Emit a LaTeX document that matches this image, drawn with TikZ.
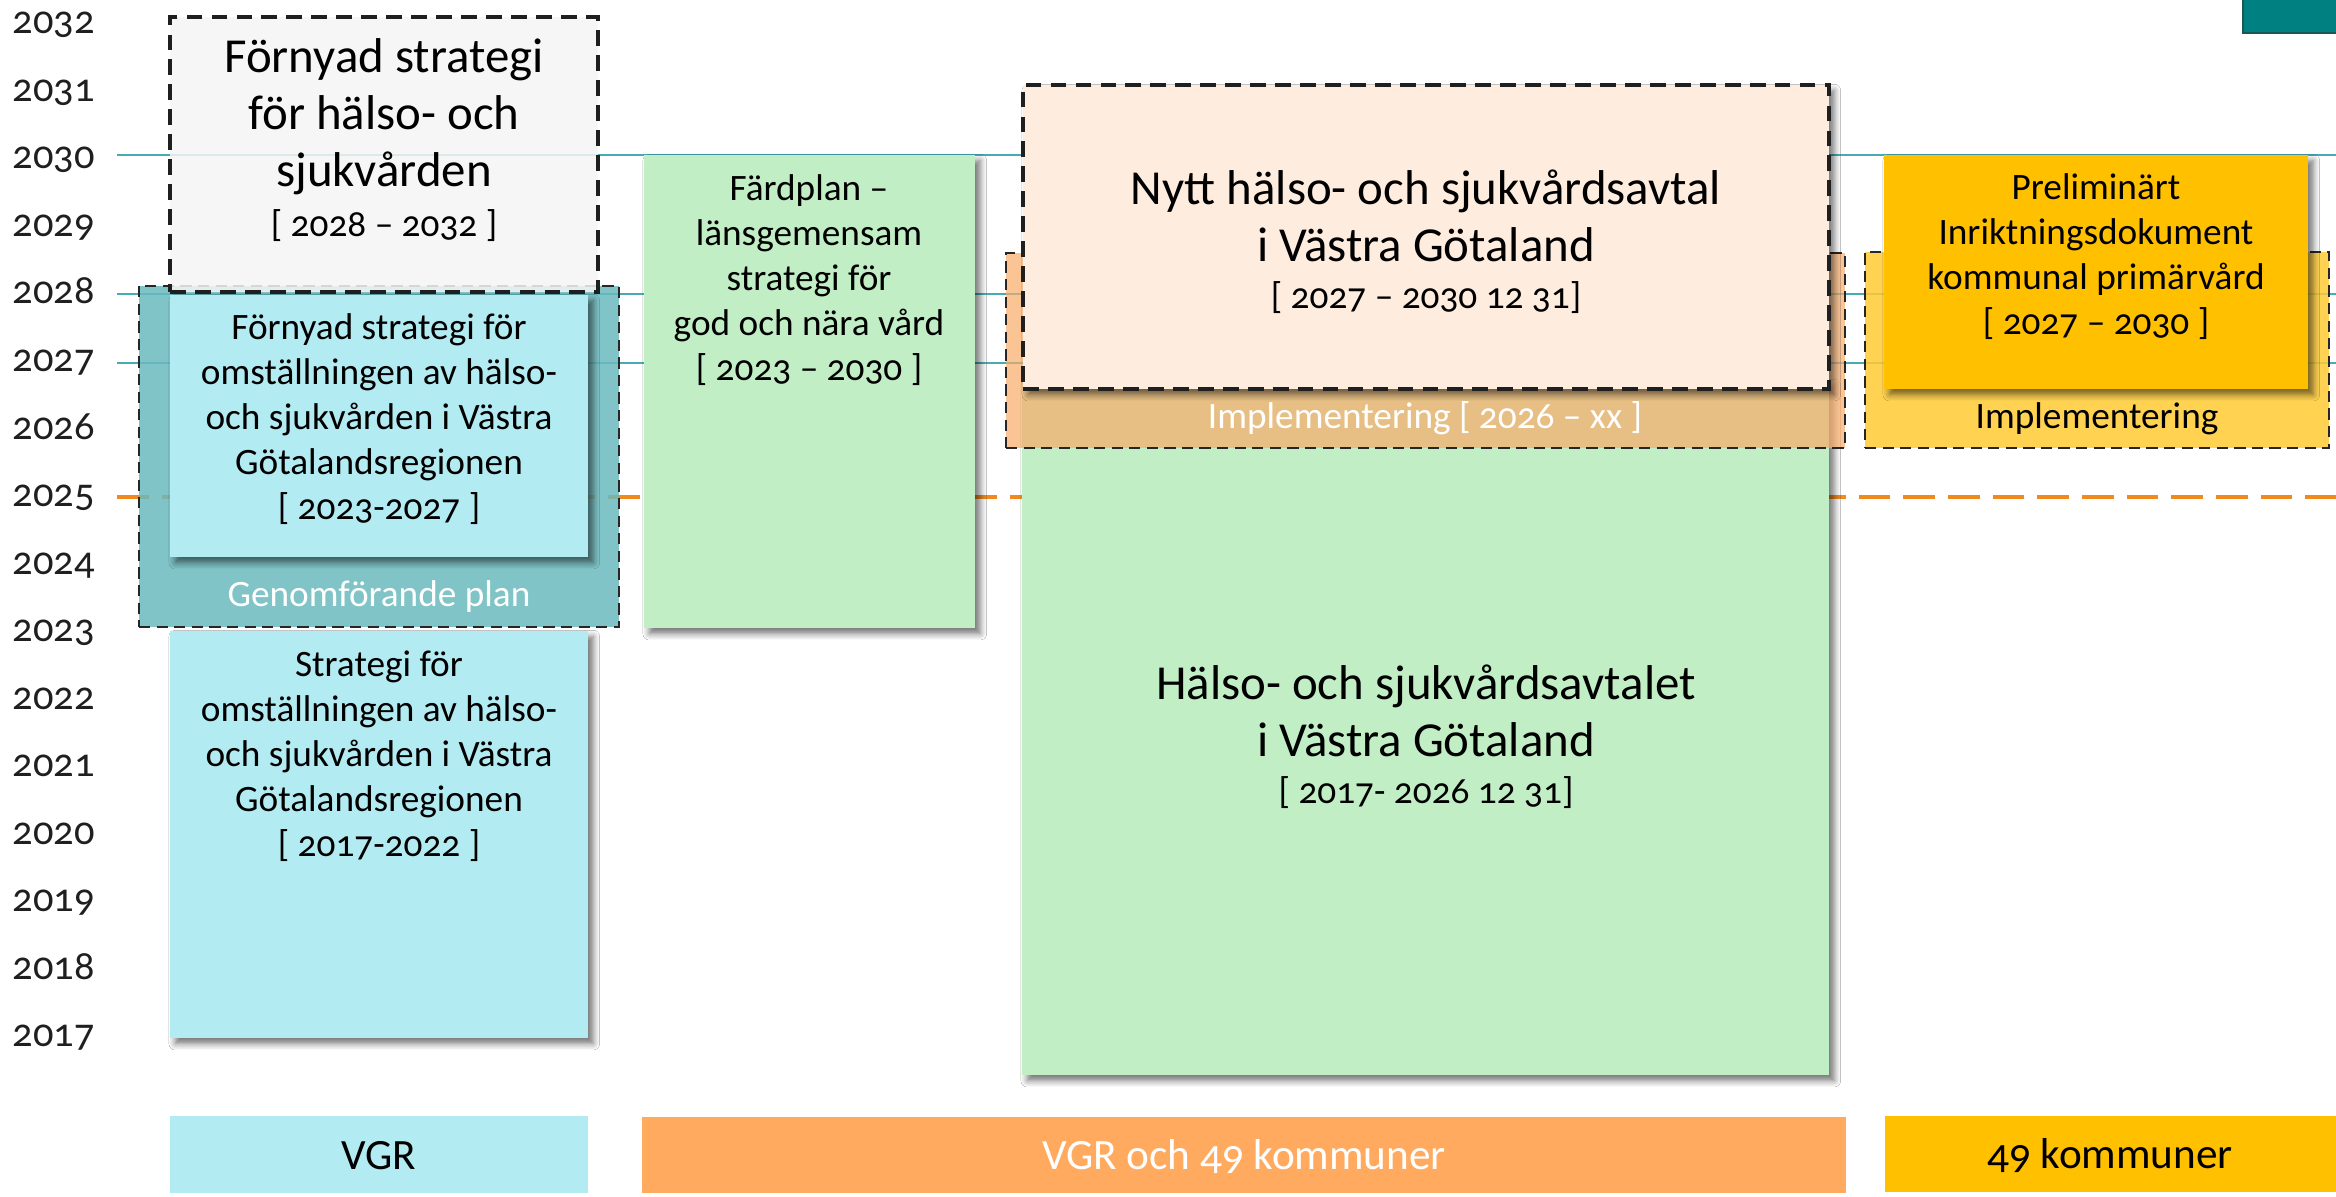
\documentclass[tikz,border=0pt]{standalone}
\usepackage{fontspec}
\setmainfont{Carlito}[Numbers=OldStyle]
\usetikzlibrary{shadows.blur,fit}
\definecolor{lblue}{RGB}{179,235,242}
\definecolor{tealbox}{RGB}{106,186,190}
\definecolor{lgreen}{RGB}{193,238,197}
\definecolor{peach}{RGB}{254,236,222}
\definecolor{implor}{RGB}{248,172,105}
\definecolor{implye}{RGB}{255,204,51}
\definecolor{gold}{RGB}{255,192,0}
\definecolor{borange}{RGB}{255,170,95}
\definecolor{tline}{RGB}{72,170,178}
\definecolor{oline}{RGB}{240,138,30}
\definecolor{topteal}{RGB}{0,128,128}
\definecolor{topteald}{RGB}{30,85,85}
\definecolor{graybox}{RGB}{245,245,245}
\begin{document}
\begin{tikzpicture}[x=0.01cm,y=-0.01cm,
  box/.style={inner sep=0pt, outer sep=0pt, draw=none},
  sh/.style={blur shadow={shadow xshift=1.5pt, shadow yshift=-1.6pt, shadow blur radius=1.8pt, shadow blur steps=6, shadow opacity=55}},
  dbig/.style={draw=black!88, line width=1pt, dash pattern=on 4.5pt off 2.6pt},
  dsmall/.style={draw=black!85, line width=0.65pt, dash pattern=on 3.2pt off 1.8pt},
  gridl/.style={draw=tline, line width=0.65pt},
  big/.style={font=\fontsize{13.9pt}{16.2pt}\selectfont, align=center, inner sep=0pt},
  med/.style={font=\fontsize{10.6pt}{12.8pt}\selectfont, align=center, inner sep=0pt},
  bot/.style={font=\fontsize{12.3pt}{14pt}\selectfont, align=center, inner sep=0pt},
  yr/.style={font=\fontsize{11.5pt}{13pt}\selectfont, inner sep=0pt, anchor=base west, text=black!88},
]
\useasboundingbox (0,0) rectangle (2336,1197);
\fill[white] (0,0) rectangle (2336,1197);

% year labels
\foreach \yr in {2017,...,2032}{
  \node[yr] (y\yr) at (12,{34+67.5*(2032-\yr)}) {\yr};
}

% grid lines
\coordinate (l30a) at (117,155); \coordinate (l30b) at (2336,155);
\coordinate (l28a) at (117,294); \coordinate (l28b) at (2336,294);
\coordinate (l27a) at (117,363); \coordinate (l27b) at (2336,363);
\coordinate (l25a) at (117,497); \coordinate (l25b) at (2336,497);
\draw[gridl] (l30a) -- (l30b);
\draw[gridl] (l28a) -- (l28b);
\draw[gridl] (l27a) -- (l27b);
\draw[draw=oline, line width=1.15pt, dash pattern=on 9pt off 3.7pt] (l25a) -- (l25b);

% VGR column
\node[box, fill=lblue, sh, fit={(170,631) (588,1038)}] (blueA) {};
\node[box, fill=tealbox, fill opacity=0.85, dsmall, fit={(139,286) (619,627)}] (genom) {};
\node[box, fill=lblue, sh, fit={(170,295) (588,557)}] (blueB) {};
\node[box, fill=graybox, fill opacity=0.85, dbig, fit={(170,17) (598,292)}] (gray) {};

\node[big] (grayT) at (384,117) {Förnyad strategi\\för hälso- och\\sjukvården};
\node[med] (grayD) at (384,226) {[ 2028 – 2032 ]};
\node[med] (blueBT) at (379,419) {Förnyad strategi för\\omställningen av hälso-\\och sjukvården i Västra\\Götalandsregionen\\{}[ 2023-2027 ]};
\node[med, text=white] (genomT) at (379,597) {Genomförande plan};
\node[med] (blueAT) at (379,756) {Strategi för\\omställningen av hälso-\\och sjukvården i Västra\\Götalandsregionen\\{}[ 2017-2022 ]};

% Färdplan
\node[box, fill=lgreen, sh, fit={(644,155) (975,628)}] (fard) {};
\node[med] (fardT) at (809,280) {Färdplan –\\länsgemensam\\strategi för\\god och nära vård\\{}[ 2023 – 2030 ]};

% Hälso- och sjukvårdsavtal
\node[box, fill=lgreen, sh, fit={(1022,380) (1829,1075)}] (hsa) {};
\node[box, fill=implor, fill opacity=0.7, dsmall, fit={(1006,253) (1845,448)}] (implO) {};
\node[box, fill=peach, sh, dbig, fit={(1023,85) (1829,389)}] (nytt) {};
\node[big] (nyttT) at (1426,216) {Nytt hälso- och sjukvårdsavtal\\i Västra Götaland};
\node[med] (nyttD) at (1426,298) {[ 2027 – 2030 12 31]};
\node[med, text=white] (implOT) at (1425,418) {Implementering [ 2026 – xx ]};
\node[big] (hsaT) at (1426,711) {Hälso- och sjukvårdsavtalet\\i Västra Götaland};
\node[med] (hsaD) at (1426,793) {[ 2017- 2026 12 31]};

% kommunal primärvård
\node[box, fill=implye, fill opacity=0.85, dsmall, fit={(1865,252) (2329,448)}] (implY) {};
\node[box, fill=gold, sh, fit={(1884,155) (2308,389)}] (prel) {};
\node[med] (prelT) at (2096,257) {Preliminärt\\Inriktningsdokument\\kommunal primärvård\\{}[ 2027 – 2030 ]};
\node[med] (implYT) at (2097,419) {Implementering};

% bottom labels
\node[box, fill=lblue, fit={(170,1116) (588,1193)}] (bVGR) {};
\node[box, fill=borange, fit={(642,1117) (1846,1193)}] (bBoth) {};
\node[box, fill=gold, fit={(1885,1116) (2336,1192)}] (bKom) {};
\node[bot] (bVGRT) at (379,1156) {VGR};
\node[bot, text=white] (bBothT) at (1244,1157) {VGR och 49 kommuner};
\node[bot] (bKomT) at (2110,1156) {49 kommuner};

% top right corner block
\node[box, fill=topteal, draw=topteald, line width=0.8pt, fit={(2243,-5) (2345,33)}] (corner) {};
\end{tikzpicture}
\end{document}
